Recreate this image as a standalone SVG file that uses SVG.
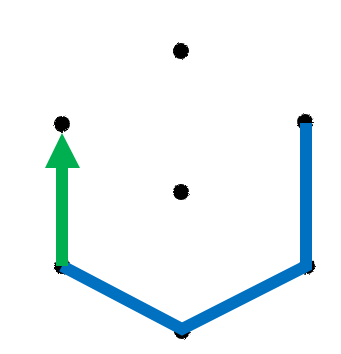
<svg xmlns="http://www.w3.org/2000/svg" width="341" height="354" viewBox="0 0 341 354">
  <style>
    .pt { fill: #000; filter: url(#soft); }
    .edge { fill: none; stroke: #0070C0; stroke-width: 12; stroke-linejoin: miter; stroke-linecap: butt; }
    .vec { stroke: #00B050; stroke-width: 12; fill: none; }
    .head { fill: #00B050; }
  </style>
  <defs>
    <!-- rough, slightly fuzzy edge for the lattice points -->
    <filter id="soft" x="-50%" y="-50%" width="200%" height="200%">
      <feTurbulence type="fractalNoise" baseFrequency="0.9" numOctaves="2" seed="3" result="n"/>
      <feDisplacementMap in="SourceGraphic" in2="n" scale="3" xChannelSelector="R" yChannelSelector="G" result="d"/>
      <feGaussianBlur in="d" stdDeviation="0.5"/>
    </filter>
  </defs>
  <rect width="341" height="354" fill="#fff"/>

  <!-- lattice points -->
  <g id="p-top"><circle class="pt" cx="181" cy="51" r="8"/></g>
  <g id="p-upper-left"><circle class="pt" cx="62" cy="124" r="8"/></g>
  <g id="p-upper-right"><circle class="pt" cx="305" cy="122" r="8"/></g>
  <g id="p-center"><circle class="pt" cx="181" cy="192" r="8"/></g>
  <g id="p-lower-left"><circle class="pt" cx="62" cy="266" r="8"/></g>
  <g id="p-lower-right"><circle class="pt" cx="307" cy="266" r="8"/></g>
  <g id="p-bottom"><circle class="pt" cx="182" cy="331" r="8"/></g>

  <!-- path edges and vector -->
  <g id="connectors">
    <polyline class="edge" points="62,266 182,329 306,266 306,123"/>
    <line class="vec" x1="62" y1="266" x2="62" y2="166"/>
    <polygon class="head" points="62,133 45,168 80,168"/>
  </g>
</svg>
